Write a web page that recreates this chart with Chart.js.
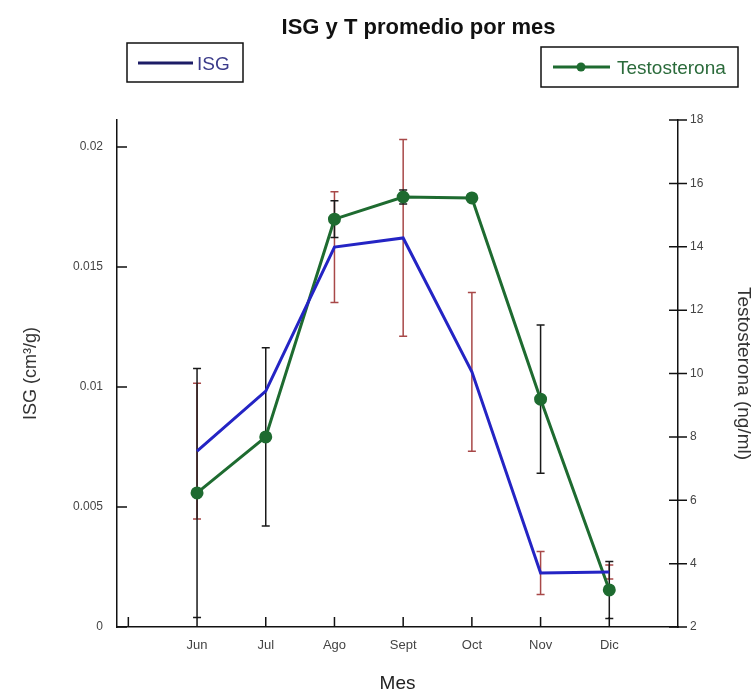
<!DOCTYPE html>
<html><head><meta charset="utf-8">
<script src="https://cdn.jsdelivr.net/npm/chart.js@4.4.0/dist/chart.umd.min.js"></script>
<style>html,body{margin:0;padding:0;background:#fff;}#wrap{position:relative;width:753px;height:693px;}</style>
</head><body><div id="wrap"><canvas id="c" width="753" height="693"></canvas></div>
<script>
const months = ['Jun','Jul','Ago','Sept','Oct','Nov','Dic'];
const isgValues = [0.00733, 0.00983, 0.01583, 0.01621, 0.01063, 0.00225, 0.00229];
const isgErrors = [0.00283, 0, 0.00231, 0.0041, 0.00331, 0.0009, 0.00029];
const testoValues = [6.23, 8.0, 14.87, 15.57, 15.54, 9.19, 3.17];
const testoErrors = [3.93, 2.81, 0.58, 0.22, 0, 2.34, 0.9];
const isgTicks = [0, 0.005, 0.01, 0.015, 0.02];
const testoTicks = [2, 4, 6, 8, 10, 12, 14, 16, 18];
const xTickMarks = [0, 1, 2, 3, 4, 5, 6, 7];

const FONT = '"Liberation Sans", Arial, sans-serif';
const BLUE = '#2424c4';
const GREEN = '#1e6b30';
const RED_ERR = '#a84848';
const BLACK_ERR = '#1a1a1a';

const errorBars = {
  id: 'errorBars',
  beforeDatasetsDraw(chart) {
    const ctx = chart.ctx;
    const xs = chart.scales.x;
    const sets = [
      {vals: isgValues, errs: isgErrors, scale: chart.scales.y, color: RED_ERR},
      {vals: testoValues, errs: testoErrors, scale: chart.scales.y2, color: BLACK_ERR}
    ];
    ctx.save();
    sets.forEach(s => {
      ctx.strokeStyle = s.color;
      ctx.lineWidth = 1.5;
      s.vals.forEach((v, i) => {
        const e = s.errs[i];
        if (!e) return;
        const x = xs.getPixelForValue(i + 1);
        const yt = s.scale.getPixelForValue(v + e);
        const yb = s.scale.getPixelForValue(v - e);
        ctx.beginPath();
        ctx.moveTo(x, yt); ctx.lineTo(x, yb);
        ctx.moveTo(x - 4, yt); ctx.lineTo(x + 4, yt);
        ctx.moveTo(x - 4, yb); ctx.lineTo(x + 4, yb);
        ctx.stroke();
      });
    });
    ctx.restore();
  }
};

const decor = {
  id: 'decor',
  afterDraw(chart) {
    const ctx = chart.ctx;
    const xs = chart.scales.x, yl = chart.scales.y, yr = chart.scales.y2;
    const area = chart.chartArea;
    ctx.save();
    ctx.strokeStyle = '#111';
    ctx.lineWidth = 1.5;
    ctx.beginPath();
    xTickMarks.forEach(v => {
      const x = xs.getPixelForValue(v);
      ctx.moveTo(x, area.bottom); ctx.lineTo(x, area.bottom - 10);
    });
    isgTicks.forEach(v => {
      const y = yl.getPixelForValue(v);
      ctx.moveTo(area.left, y); ctx.lineTo(area.left + 10, y);
    });
    testoTicks.forEach(v => {
      const y = yr.getPixelForValue(v);
      ctx.moveTo(area.right - 9, y); ctx.lineTo(area.right + 9, y);
    });
    ctx.stroke();

    // title
    ctx.fillStyle = '#111';
    ctx.font = 'bold 22px ' + FONT;
    ctx.textAlign = 'center';
    ctx.textBaseline = 'alphabetic';
    ctx.fillText('ISG y T promedio por mes', 418.5, 34);

    // legend ISG
    ctx.lineWidth = 1.5;
    ctx.strokeStyle = '#111';
    ctx.strokeRect(127, 43, 116, 39);
    ctx.strokeStyle = '#1c1c66';
    ctx.lineWidth = 3;
    ctx.beginPath(); ctx.moveTo(138, 63); ctx.lineTo(193, 63); ctx.stroke();
    ctx.fillStyle = '#3b3b8a';
    ctx.font = '19px ' + FONT;
    ctx.textAlign = 'left';
    ctx.fillText('ISG', 197, 70);

    // legend Testosterona
    ctx.lineWidth = 1.5;
    ctx.strokeStyle = '#111';
    ctx.strokeRect(541, 47, 197, 40);
    ctx.strokeStyle = GREEN;
    ctx.lineWidth = 3;
    ctx.beginPath(); ctx.moveTo(553, 67); ctx.lineTo(610, 67); ctx.stroke();
    ctx.fillStyle = GREEN;
    ctx.beginPath(); ctx.arc(581, 67, 4.5, 0, Math.PI * 2); ctx.fill();
    ctx.fillStyle = '#2b6b3b';
    ctx.fillText('Testosterona', 617, 74);
    ctx.restore();
  }
};

new Chart(document.getElementById('c'), {
  type: 'line',
  data: {
    datasets: [
      {
        label: 'ISG',
        data: isgValues.map((v, i) => ({x: i + 1, y: v})),
        yAxisID: 'y',
        borderColor: BLUE,
        borderWidth: 3,
        pointRadius: 0,
        tension: 0,
        fill: false
      },
      {
        label: 'Testosterona',
        data: testoValues.map((v, i) => ({x: i + 1, y: v})),
        yAxisID: 'y2',
        borderColor: GREEN,
        backgroundColor: GREEN,
        borderWidth: 3,
        pointRadius: 5,
        pointBackgroundColor: GREEN,
        pointBorderColor: GREEN,
        tension: 0,
        fill: false
      }
    ]
  },
  options: {
    responsive: false,
    animation: false,
    layout: {padding: {top: 120, left: 0, right: 0, bottom: 0}},
    plugins: {legend: {display: false}, title: {display: false}, tooltip: {enabled: false}},
    scales: {
      x: {
        type: 'linear',
        position: 'bottom',
        min: -0.165,
        max: 8,
        afterBuildTicks: s => { s.ticks = months.map((m, i) => ({value: i + 1})); },
        afterFit: s => { s.height = 66; },
        ticks: {callback: v => months[v - 1] || '', padding: 11, font: {size: 13, family: FONT}, color: '#444', maxRotation: 0, autoSkip: false},
        grid: {display: false, drawTicks: false},
        border: {display: true, color: '#111', width: 1.5},
        title: {display: true, text: 'Mes', font: {size: 19, family: FONT, lineHeight: 1}, color: '#222', padding: {top: 0, bottom: 0}}
      },
      y: {
        position: 'left',
        min: 0,
        max: 0.021125,
        afterBuildTicks: s => { s.ticks = isgTicks.map(v => ({value: v})); },
        afterFit: s => { s.width = 117; },
        ticks: {callback: v => String(v), padding: 14, font: {size: 12, family: FONT}, color: '#444'},
        grid: {display: false, drawTicks: false},
        border: {display: true, color: '#111', width: 1.5},
        title: {display: true, text: 'ISG (cm³/g)', font: {size: 18, family: FONT, lineHeight: 1}, color: '#333', padding: {top: 22, bottom: 0}}
      },
      y2: {
        position: 'right',
        min: 2,
        max: 18,
        afterBuildTicks: s => { s.ticks = testoTicks.map(v => ({value: v})); },
        afterFit: s => { s.width = 75; },
        ticks: {callback: v => String(v), padding: 12, font: {size: 12, family: FONT}, color: '#444'},
        grid: {display: false, drawTicks: false},
        border: {display: true, color: '#111', width: 1.5},
        title: {display: true, text: 'Testosterona (ng/ml)', font: {size: 19, family: FONT, lineHeight: 1}, color: '#333', padding: {top: 0, bottom: 0}}
      }
    }
  },
  plugins: [errorBars, decor]
});
</script></body></html>
